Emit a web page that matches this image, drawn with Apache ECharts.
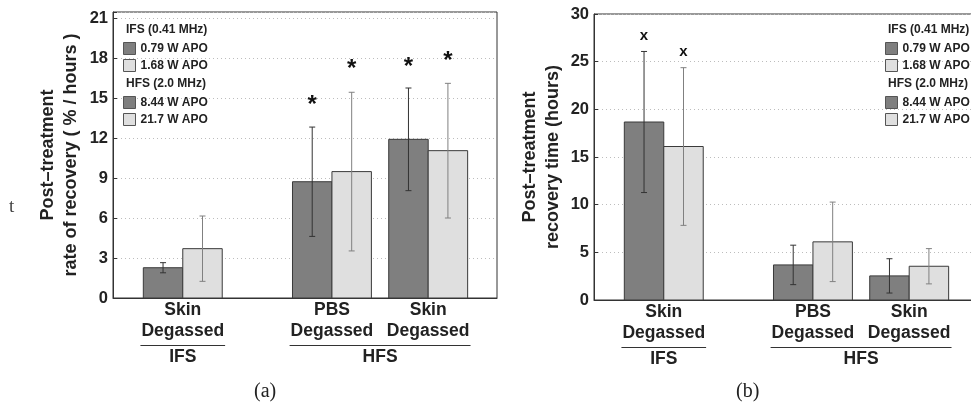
<!DOCTYPE html>
<html>
<head>
<meta charset="utf-8">
<script src="https://cdn.jsdelivr.net/npm/echarts@6/dist/echarts.min.js"></script>
<style>
  html, body { margin: 0; padding: 0; background: #fff; }
  #chart { width: 971px; height: 406px; }
</style>
</head>
<body>
<div id="chart"></div>
<script>
// categories and where the bar pairs sit on the x axis
const categories = ['Skin\nDegassed', 'PBS\nDegassed', 'Skin\nDegassed'];
const xPos = [1, 2.55, 3.55];
const groupNames = ['IFS', 'HFS'];
const groupOf = [0, 1, 1];
const headers = ['IFS (0.41 MHz)', 'HFS (2.0 MHz)'];
const powerNames = [['0.79 W APO', '1.68 W APO'], ['8.44 W APO', '21.7 W APO']];

// (a) rate of recovery (% / hours)
const rateLow = [2.27, 8.72, 11.9];
const rateLowErr = [0.38, 4.1, 3.85];
const rateHigh = [3.7, 9.48, 11.05];
const rateHighErr = [2.45, 5.95, 5.05];
const rateLowMark = [null, 14.85, 17.7];
const rateHighMark = [null, 17.5, 18.1];
const rateStep = 3;
const rateMax = 21.45;

// (b) recovery time (hours)
const timeLow = [18.67, 3.68, 2.53];
const timeLowErr = [7.4, 2.07, 1.8];
const timeHigh = [16.1, 6.1, 3.54];
const timeHighErr = [8.27, 4.17, 1.85];
const timeLowMark = [27.9, null, null];
const timeHighMark = [26.2, null, null];
const timeStep = 5;
const timeMax = 30;

const X_MIN = 0.275, X_MAX = 4.265, BAR_W = 0.41;
const FILL = ['#7f7f7f', '#dfdfdf'];
const ERR = ['#333', '#808080'];
const EDGE = '#3a3a3a';
const FONT = 'Liberation Sans';

const groupCenters = groupNames.map((g, gi) => {
  const xs = xPos.filter((x, i) => groupOf[i] === gi);
  return xs.reduce((s, x) => s + x, 0) / xs.length;
});

function barItem(side, markChar, markSize, markShift) {
  return function (params, api) {
    const x = api.value(0), v = api.value(1), e = api.value(2), m = api.value(3);
    const left = x + (side - 1) * BAR_W;
    const a = api.coord([left, v]);
    const b = api.coord([left + BAR_W, 0]);
    const cx = (a[0] + b[0]) / 2;
    const top = api.coord([x, v + e])[1];
    const bot = api.coord([x, v - e])[1];
    const ec = ERR[side];
    const kids = [
      { type: 'rect', shape: { x: a[0], y: a[1], width: b[0] - a[0], height: b[1] - a[1] },
        style: { fill: FILL[side], stroke: EDGE, lineWidth: 1 } },
      { type: 'line', shape: { x1: cx, y1: top, x2: cx, y2: bot }, style: { stroke: ec, lineWidth: 1 } },
      { type: 'line', shape: { x1: cx - 3, y1: top, x2: cx + 3, y2: top }, style: { stroke: ec, lineWidth: 1 } },
      { type: 'line', shape: { x1: cx - 3, y1: bot, x2: cx + 3, y2: bot }, style: { stroke: ec, lineWidth: 1 } }
    ];
    if (!isNaN(m)) {
      kids.push({
        type: 'text', x: cx, y: api.coord([x, m])[1] + markShift,
        style: { text: markChar, fill: '#111', font: 'bold ' + markSize + 'px ' + FONT,
                 align: 'center', verticalAlign: 'middle' }
      });
    }
    return { type: 'group', children: kids };
  };
}

function panelSeries(p, sets, markChar, markSize, markShift) {
  const out = [];
  sets.forEach(([vals, errs, marks], side) => {
    groupNames.forEach((g, gi) => {
      const data = [];
      xPos.forEach((x, i) => {
        if (groupOf[i] === gi) data.push([x, vals[i], errs[i], marks[i] == null ? '-' : marks[i]]);
      });
      out.push({
        type: 'custom', name: powerNames[gi][side],
        xAxisIndex: p * 2, yAxisIndex: p,
        encode: { x: 0, y: 1 },
        itemStyle: { color: FILL[side], borderColor: EDGE, borderWidth: 1 },
        renderItem: barItem(side, markChar, markSize, markShift),
        data: data, z: 3
      });
    });
  });
  // underline under the category labels, one per frequency group
  out.push({
    type: 'custom', xAxisIndex: p * 2, yAxisIndex: p, silent: true, clip: false,
    encode: { x: [0, 1], y: 2 },
    data: groupNames.map((g, gi) => {
      const xs = xPos.filter((x, i) => groupOf[i] === gi);
      return [Math.min(...xs) - 0.44, Math.max(...xs) + 0.44, 0];
    }),
    renderItem: function (params, api) {
      const s = api.coord([api.value(0), 0]);
      const e = api.coord([api.value(1), 0]);
      const y = s[1] + 47.5;
      return { type: 'line', shape: { x1: s[0], y1: y, x2: e[0], y2: y }, style: { stroke: '#333', lineWidth: 1 } };
    }
  });
  return out;
}

function xAxes(p) {
  const base = { gridIndex: p, type: 'value', position: 'bottom', min: X_MIN, max: X_MAX,
                 axisTick: { show: false }, splitLine: { show: false } };
  return [
    Object.assign({}, base, {
      axisLine: { show: true, onZero: false, lineStyle: { color: '#333', width: 1 } },
      axisLabel: {
        customValues: xPos,
        formatter: v => categories[xPos.findIndex(x => Math.abs(x - v) < 1e-6)] || '',
        fontFamily: FONT, fontWeight: 'bold', fontSize: 17.5, lineHeight: 21, color: '#222', margin: 2
      }
    }),
    Object.assign({}, base, {
      axisLine: { show: false, onZero: false },
      axisLabel: {
        customValues: groupCenters,
        formatter: v => groupNames[groupCenters.findIndex(x => Math.abs(x - v) < 1e-6)] || '',
        fontFamily: FONT, fontWeight: 'bold', fontSize: 17.5, lineHeight: 21, color: '#222', margin: 48.5
      }
    })
  ];
}

function yAxis(p, name, max, step, gap) {
  return {
    gridIndex: p, type: 'value', min: 0, max: max, interval: step,
    name: name, nameLocation: 'middle', nameGap: gap, nameRotate: 90, nameMoveOverlap: false,
    nameTextStyle: { fontFamily: FONT, fontWeight: 'bold', fontSize: 18, lineHeight: 23, color: '#222' },
    axisLine: { show: true, lineStyle: { color: '#333', width: 1 } },
    axisTick: { show: true, inside: true, length: 4, lineStyle: { color: '#333' } },
    axisLabel: {
      formatter: v => (Math.abs(v / step - Math.round(v / step)) < 1e-6 ? String(v) : ''),
      fontFamily: FONT, fontWeight: 'bold', fontSize: 16.5, color: '#222', margin: 5
    },
    splitLine: { show: true, lineStyle: { color: '#bdbdbd', type: [1, 3], width: 1 } }
  };
}

function legends(left) {
  return groupNames.map((g, gi) => ({
    left: left, top: gi === 0 ? 42 : 96, orient: 'vertical', padding: 0,
    itemWidth: 12, itemHeight: 12, itemGap: 4, itemTextGap: 3, selectedMode: false,
    textStyle: { fontFamily: FONT, fontWeight: 'bold', fontSize: 12, lineHeight: 12, color: '#222' },
    data: powerNames[gi].map((n, side) => ({
      name: n, icon: 'rect',
      itemStyle: { color: FILL[side], borderColor: '#555', borderWidth: 1 }
    }))
  }));
}

function headerTitles(left) {
  return headers.map((h, gi) => ({
    text: h, left: left, top: gi === 0 ? 24 : 78, padding: 0,
    textStyle: { fontFamily: FONT, fontWeight: 'bold', fontSize: 12, color: '#222' }
  }));
}

const chart = echarts.init(document.getElementById('chart'), null, { renderer: 'canvas' });
chart.setOption({
  animation: false,
  backgroundColor: '#fff',
  title: [
    ...headerTitles(126),
    ...headerTitles(888),
    { text: '(a)', left: 254, top: 382, padding: 0,
      textStyle: { fontFamily: 'Liberation Serif', fontWeight: 'normal', fontSize: 20, color: '#222' } },
    { text: '(b)', left: 736, top: 382, padding: 0,
      textStyle: { fontFamily: 'Liberation Serif', fontWeight: 'normal', fontSize: 20, color: '#222' } },
    { text: 't', left: 9, top: 198, padding: 0,
      textStyle: { fontFamily: 'Liberation Serif', fontWeight: 'normal', fontSize: 19, color: '#444' } }
  ],
  legend: [...legends(123), ...legends(885)],
  grid: [
    { left: 113, top: 12, width: 384, height: 286, show: true, borderColor: '#333', borderWidth: 1,
      backgroundColor: 'transparent', outerBoundsMode: 'none' },
    { left: 594, top: 14, width: 384, height: 286, show: true, borderColor: '#333', borderWidth: 1,
      backgroundColor: 'transparent', outerBoundsMode: 'none' }
  ],
  xAxis: [...xAxes(0), ...xAxes(1)],
  yAxis: [
    yAxis(0, 'Post\u2013treatment\nrate of recovery ( % / hours )', rateMax, rateStep, 30),
    yAxis(1, 'Post\u2013treatment\nrecovery time (hours)', timeMax, timeStep, 29)
  ],
  series: [
    ...panelSeries(0, [[rateLow, rateLowErr, rateLowMark], [rateHigh, rateHighErr, rateHighMark]], '*', 24, 5),
    ...panelSeries(1, [[timeLow, timeLowErr, timeLowMark], [timeHigh, timeHighErr, timeHighMark]], 'x', 15, 2)
  ]
});
</script>
</body>
</html>
